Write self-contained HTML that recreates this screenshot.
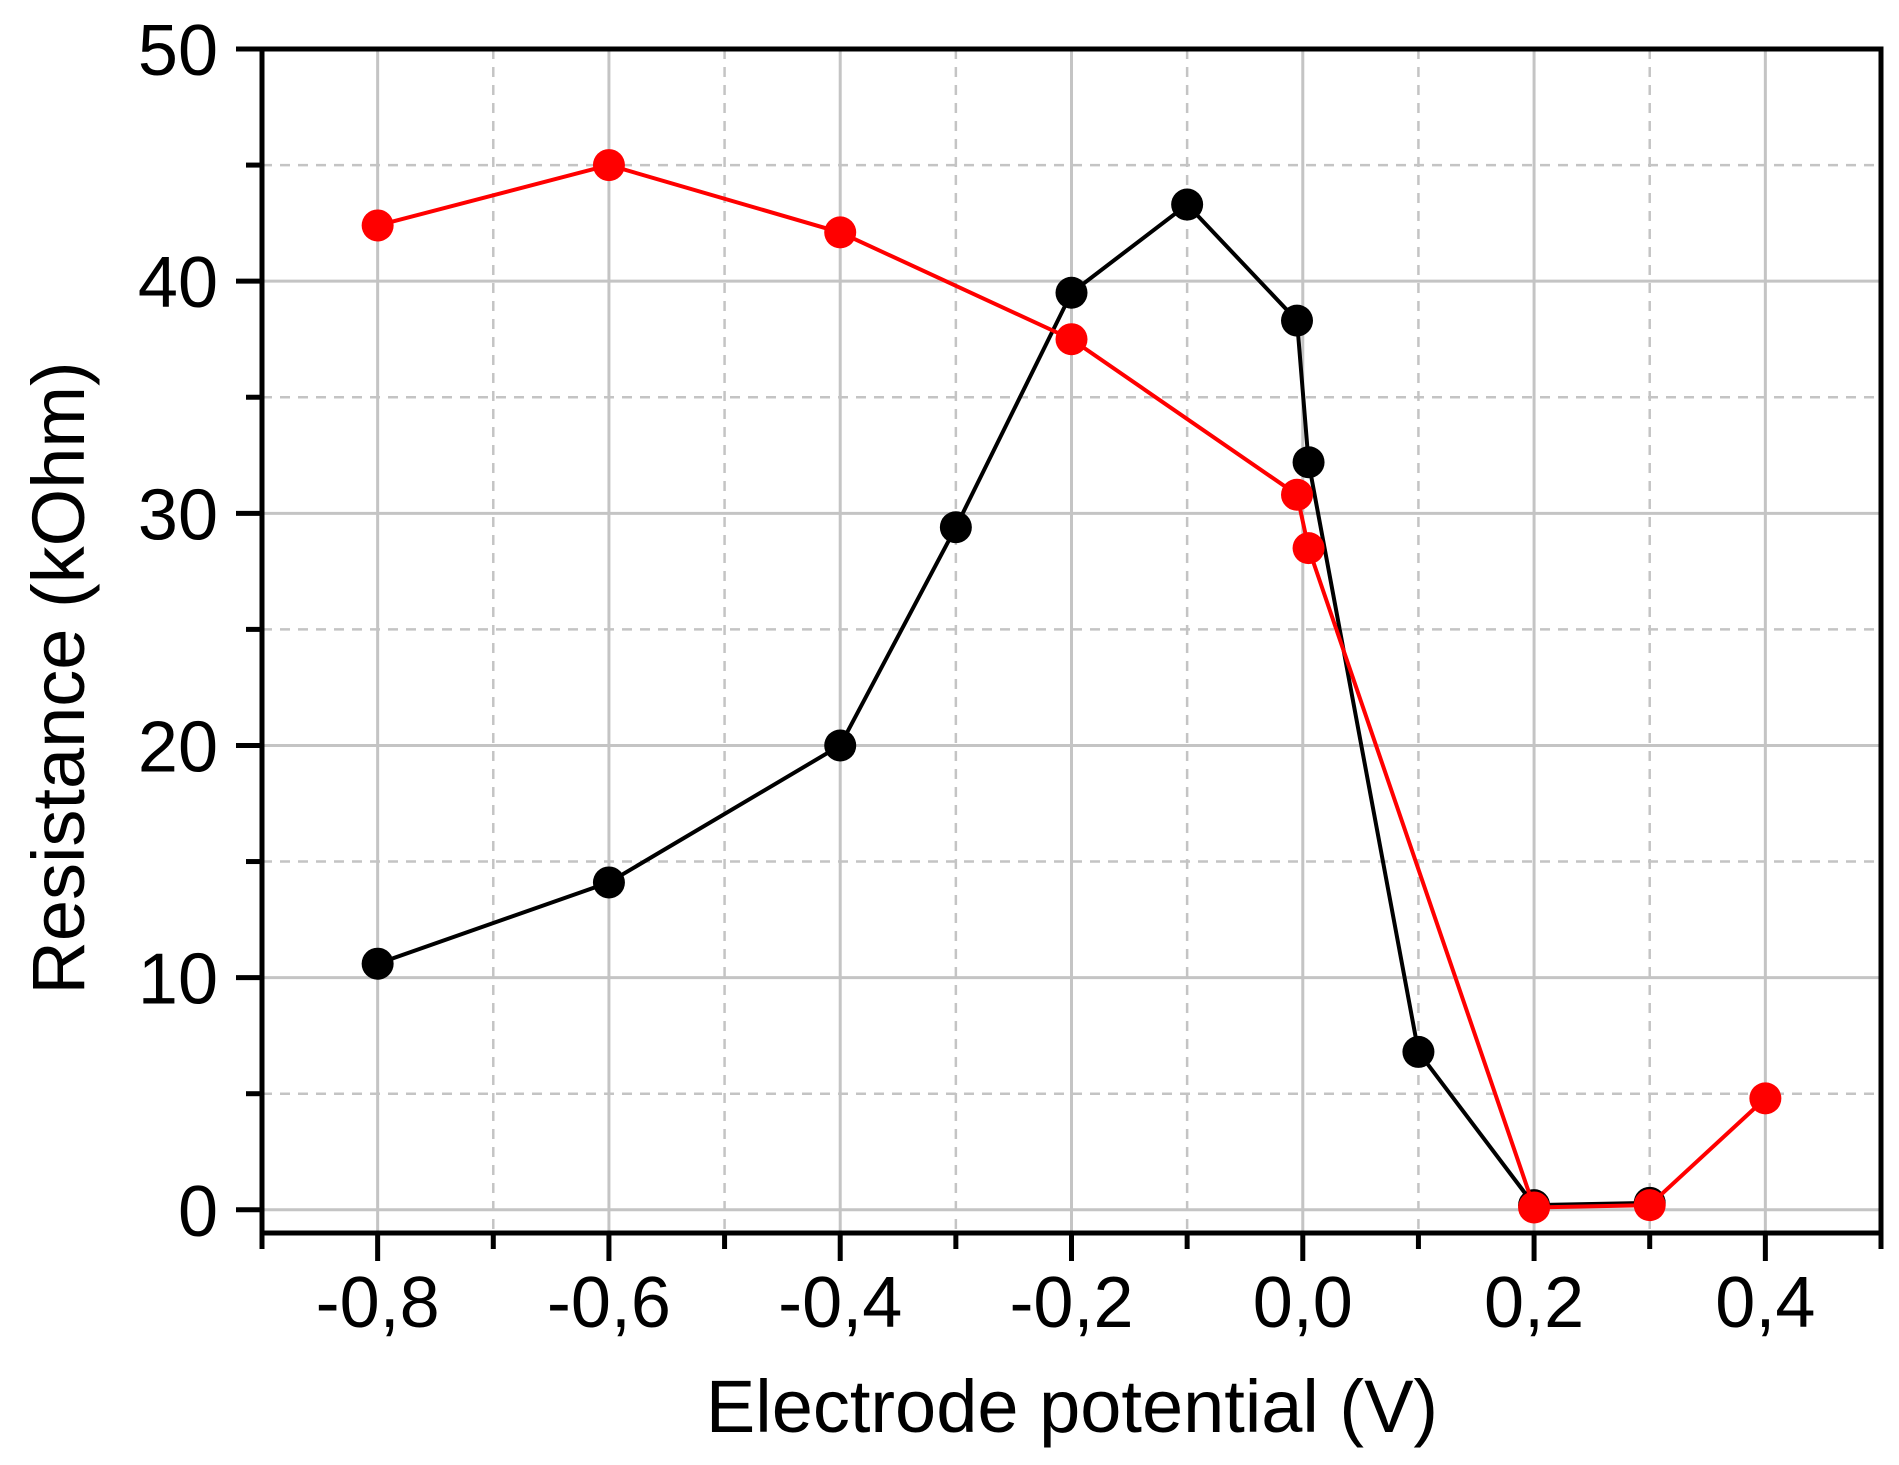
<!DOCTYPE html>
<html><head><meta charset="utf-8"><style>
html,body{margin:0;padding:0;background:#fff;}
svg{display:block;font-family:"Liberation Sans",Arial,sans-serif;}
</style></head><body>
<svg id="chart" width="1899" height="1465" viewBox="0 0 1899 1465" xmlns="http://www.w3.org/2000/svg">
<g id="grid"></g>
<g id="series"></g>
<g id="axes"></g>
<text x="1072" y="1432" font-size="74" text-anchor="middle" fill="#000">Electrode potential (V)</text>
<text transform="translate(84,678) rotate(-90)" font-size="74" text-anchor="middle" fill="#000">Resistance (kOhm)</text>
</svg>
<script>
const blackX = [-0.8, -0.6, -0.4, -0.3, -0.2, -0.1, -0.005, 0.005, 0.1, 0.2, 0.3];
const blackY = [10.6, 14.1, 20.0, 29.4, 39.5, 43.3, 38.3, 32.2, 6.8, 0.2, 0.3];
const redX = [-0.8, -0.6, -0.4, -0.2, -0.005, 0.005, 0.2, 0.3, 0.4];
const redY = [42.4, 45.0, 42.1, 37.5, 30.8, 28.5, 0.1, 0.2, 4.8];
const xTickVals = [-0.8, -0.6, -0.4, -0.2, 0.0, 0.2, 0.4];
const xTickLabels = ["-0,8", "-0,6", "-0,4", "-0,2", "0,0", "0,2", "0,4"];
const xMinorVals = [-0.9, -0.7, -0.5, -0.3, -0.1, 0.1, 0.3, 0.5];
const yTickVals = [0, 10, 20, 30, 40, 50];
const yTickLabels = ["0", "10", "20", "30", "40", "50"];
const yMinorVals = [5, 15, 25, 35, 45];

const L = 262, R = 1881, T = 49, B = 1233;
const xMin = -0.9, xMax = 0.5, yMin = -1, yMax = 50;
function sx(v){ return L + (v - xMin) / (xMax - xMin) * (R - L); }
function sy(v){ return B - (v - yMin) / (yMax - yMin) * (B - T); }
const NS = "http://www.w3.org/2000/svg";
function mk(tag, attrs, parent){ const e = document.createElementNS(NS, tag); for (const k in attrs) e.setAttribute(k, attrs[k]); parent.appendChild(e); return e; }
const grid = document.getElementById('grid'), axes = document.getElementById('axes'), series = document.getElementById('series');

xTickVals.forEach((v, i) => {
  const g = mk('line', {x1: sx(v), x2: sx(v), y1: T, y2: B, stroke: '#c4c4c4', 'stroke-width': 3}, grid);
  
  
  const t = mk('line', {x1: sx(v), x2: sx(v), y1: B, y2: B + 28, stroke: '#000', 'stroke-width': 5}, axes);
  
  
  const lb = mk('text', {x: sx(v), y: 1327, 'font-size': 72, 'text-anchor': 'middle', fill: '#000'}, axes);
  lb.textContent = xTickLabels[i];
  
  
});
xMinorVals.forEach(v => {
  if (v > xMin && v < xMax) {
    const g = mk('line', {x1: sx(v), x2: sx(v), y1: T, y2: B, stroke: '#c4c4c4', 'stroke-width': 2.5, 'stroke-dasharray': '10,8'}, grid);
    
    
  }
  const t = mk('line', {x1: sx(v), x2: sx(v), y1: B, y2: B + 16, stroke: '#000', 'stroke-width': 5}, axes);
  
  
});
yTickVals.forEach((v, i) => {
  const g = mk('line', {x1: L, x2: R, y1: sy(v), y2: sy(v), stroke: '#c4c4c4', 'stroke-width': 3}, grid);
  
  
  const t = mk('line', {x1: L - 26, x2: L, y1: sy(v), y2: sy(v), stroke: '#000', 'stroke-width': 5}, axes);
  
  
  const lb = mk('text', {x: 218, y: sy(v) + 26, 'font-size': 72, 'text-anchor': 'end', fill: '#000'}, axes);
  lb.textContent = yTickLabels[i];
  
  
});
yMinorVals.forEach(v => {
  const g = mk('line', {x1: L, x2: R, y1: sy(v), y2: sy(v), stroke: '#c4c4c4', 'stroke-width': 2.5, 'stroke-dasharray': '10,8'}, grid);
  
  
  const t = mk('line', {x1: L - 16, x2: L, y1: sy(v), y2: sy(v), stroke: '#000', 'stroke-width': 5}, axes);
  
  
});
const frame = mk('rect', {x: L, y: T, width: R - L, height: B - T, fill: 'none', stroke: '#000', 'stroke-width': 5}, axes);



function drawSeries(xs, ys, color, name){
  const pts = xs.map((x, i) => sx(x) + ',' + sy(ys[i])).join(' ');
  const pl = mk('polyline', {points: pts, fill: 'none', stroke: color, 'stroke-width': 4}, series);
  
  
  xs.forEach((x, i) => {
    const c = mk('circle', {cx: sx(x), cy: sy(ys[i]), r: 16, fill: color}, series);
    
    
  });
}
drawSeries(blackX, blackY, '#000', 'black-series');
drawSeries(redX, redY, '#ff0000', 'red-series');
</script>
</body></html>
